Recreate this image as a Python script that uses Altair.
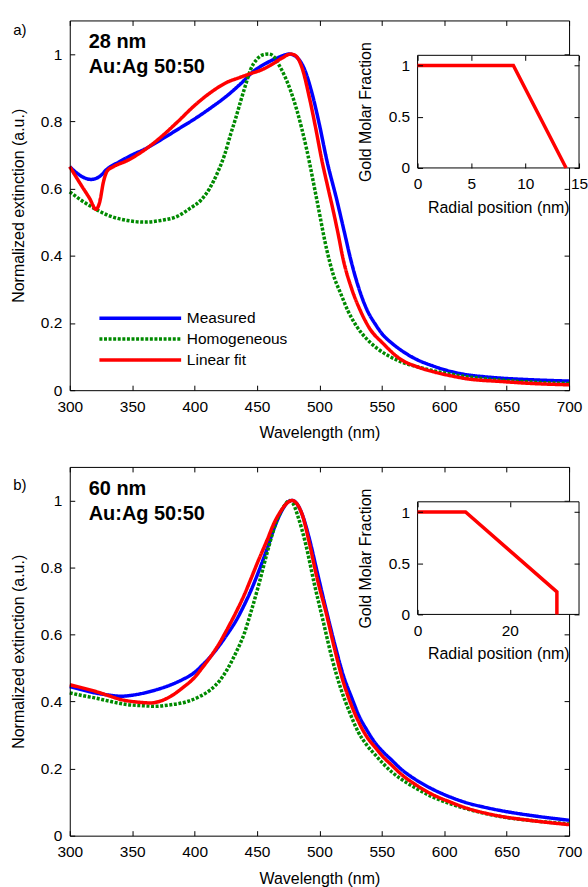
import altair as alt
import pandas as pd

# ---------------- Panel a: 28 nm, Au:Ag 50:50 ----------------
a_meas_wl = [300, 305, 310, 317, 324, 330, 340, 350, 360, 373, 387, 400, 413, 426, 437, 447, 457, 466, 476, 482,
             488, 495, 500, 506, 514, 520, 525, 531, 538, 545, 551, 558, 565, 577, 591, 605, 618, 632, 645, 670, 700]
a_meas_ext = [0.665, 0.648, 0.635, 0.627, 0.636, 0.658, 0.680, 0.700, 0.717, 0.745, 0.777, 0.807, 0.840, 0.876, 0.912,
              0.948, 0.972, 0.988, 1.000, 0.990, 0.955, 0.870, 0.790, 0.683, 0.565, 0.470, 0.390, 0.310, 0.240, 0.195,
              0.164, 0.140, 0.120, 0.093, 0.072, 0.056, 0.046, 0.040, 0.036, 0.031, 0.027]

a_homo_wl = [300, 310, 320, 333, 346, 360, 373, 386, 396, 405, 412, 418, 424, 429, 433, 437, 441, 445, 450, 455,
             459.5, 464, 468, 471.5, 477, 482, 490, 498, 506, 511, 517, 523, 530, 538, 546, 555, 565, 578, 591, 605,
             618, 645, 670, 700]
a_homo_ext = [0.590, 0.563, 0.540, 0.517, 0.505, 0.500, 0.505, 0.517, 0.540, 0.565, 0.600, 0.644, 0.700, 0.763, 0.810,
              0.861, 0.910, 0.955, 0.985, 0.998, 1.000, 0.990, 0.965, 0.940, 0.890, 0.832, 0.713, 0.565, 0.416, 0.345,
              0.288, 0.235, 0.189, 0.152, 0.125, 0.103, 0.085, 0.070, 0.058, 0.048, 0.040, 0.030, 0.024, 0.020]

a_fit_wl = [300, 310, 316, 321, 324, 327, 330, 335, 346, 360, 373, 386, 400, 413, 426, 436, 445, 453, 461, 470,
            477, 481, 486, 492, 497, 502, 507, 511, 515, 519, 526, 533, 540, 551, 565, 578, 591, 605, 618, 645,
            670, 700]
a_fit_ext = [0.665, 0.605, 0.570, 0.538, 0.560, 0.620, 0.652, 0.665, 0.683, 0.715, 0.753, 0.797, 0.847, 0.886, 0.916,
             0.930, 0.942, 0.952, 0.967, 0.988, 1.000, 0.995, 0.960, 0.870, 0.780, 0.683, 0.600, 0.535, 0.465, 0.390,
             0.300, 0.235, 0.185, 0.139, 0.092, 0.070, 0.055, 0.043, 0.034, 0.026, 0.020, 0.016]

a_inset_r = [0, 8.9, 13.8]
a_inset_f = [1, 1, 0]

# ---------------- Panel b: 60 nm, Au:Ag 50:50 ----------------
b_meas_wl = [300, 310, 320, 330, 341, 350, 360, 370, 381, 390, 400, 406, 413, 420, 426, 433, 440, 445, 451, 458,
             464, 470, 475, 478, 482, 487, 492, 498, 505, 512, 519, 526, 532, 538, 545, 551, 558, 565, 578, 591,
             605, 618, 632, 645, 670, 700]
b_meas_ext = [0.445, 0.435, 0.426, 0.420, 0.416, 0.419, 0.426, 0.436, 0.450, 0.465, 0.487, 0.508, 0.535, 0.568, 0.600,
              0.640, 0.690, 0.730, 0.785, 0.855, 0.920, 0.970, 0.996, 1.000, 0.990, 0.950, 0.885, 0.790, 0.680, 0.575,
              0.480, 0.410, 0.355, 0.315, 0.275, 0.250, 0.225, 0.200, 0.165, 0.138, 0.115, 0.098, 0.085, 0.075, 0.060,
              0.046]

b_homo_wl = [300, 310, 320, 333, 346, 357, 368, 380, 394, 404, 413, 420, 426, 433, 440, 445, 451.5, 458, 464, 469,
             473, 475.5, 479, 483, 489, 496, 503, 510, 517, 524, 531, 538, 545, 551, 558, 565, 578, 591, 605, 618,
             645, 670, 700]
b_homo_ext = [0.426, 0.418, 0.411, 0.400, 0.391, 0.388, 0.386, 0.390, 0.400, 0.415, 0.436, 0.462, 0.495, 0.545, 0.605,
              0.665, 0.750, 0.842, 0.920, 0.965, 0.990, 1.000, 0.990, 0.950, 0.870, 0.750, 0.640, 0.530, 0.440, 0.370,
              0.310, 0.270, 0.240, 0.215, 0.190, 0.170, 0.140, 0.115, 0.095, 0.080, 0.057, 0.045, 0.035]

b_fit_wl = [300, 310, 320, 330, 341, 353, 365, 373, 381, 390, 400, 406, 413, 420, 426, 433, 440, 445, 451, 458,
            464, 469, 474, 478, 482, 486, 492, 498, 505.5, 512, 519, 525, 532, 538, 545, 551, 558, 565, 578, 591,
            605, 618, 632, 645, 670, 700]
b_fit_ext = [0.450, 0.441, 0.431, 0.419, 0.406, 0.399, 0.396, 0.402, 0.416, 0.440, 0.472, 0.500, 0.535, 0.575, 0.615,
             0.665, 0.720, 0.765, 0.820, 0.881, 0.935, 0.968, 0.992, 1.000, 0.990, 0.960, 0.872, 0.770, 0.663, 0.560,
             0.460, 0.395, 0.335, 0.295, 0.262, 0.235, 0.210, 0.185, 0.150, 0.122, 0.100, 0.082, 0.068, 0.058, 0.045,
             0.033]

b_inset_r = [0, 10.4, 30.2, 30.2]
b_inset_f = [1, 1, 0.22, 0]

# ---------------- shared settings ----------------
SERIES = ["Measured", "Homogeneous", "Linear fit"]
COLORS = ["#0000ff", "#008a00", "#ff0000"]
DASHES = [[1, 0], [3, 1.6], [1, 0]]
X_TICKS = [300, 350, 400, 450, 500, 550, 600, 650, 700]
Y_TICKS = [0, 0.2, 0.4, 0.6, 0.8, 1]
INSET_Y_TICKS = [0, 0.5, 1]

FONT = "Liberation Sans"
W = 501
IN_L, IN_R, IN_T, IN_B = 349, 511, 35, 148
FMT = "~r"


def spectra_df(meas_wl, meas_ext, homo_wl, homo_ext, fit_wl, fit_ext):
    parts = []
    for name, wl, ext in [("Measured", meas_wl, meas_ext), ("Homogeneous", homo_wl, homo_ext),
                          ("Linear fit", fit_wl, fit_ext)]:
        parts.append(pd.DataFrame({"wl": wl, "ext": ext, "series": name}))
    return pd.concat(parts, ignore_index=True)


def tick_axis(orient, offset, values, z):
    return alt.Axis(orient=orient, offset=offset, values=values, ticks=True, tickSize=5, labels=False,
                    domain=False, grid=False, title=None, zindex=z)


def label_axis(orient, values, title, title_pad, z, offset=0, domain=True):
    return alt.Axis(orient=orient, offset=offset, values=values, format=FMT, ticks=False, tickSize=0,
                    labelPadding=9 if orient == "bottom" else 8, labelFlush=False, labelOverlap=False,
                    domain=domain, grid=False, title=title,
                    titlePadding=title_pad, zindex=z, labelFont=FONT, labelFontSize=15.5, titleFont=FONT,
                    titleFontSize=16, titleFontWeight="normal", labelColor="black", titleColor="black")


def panel(df, inset_r, inset_f, inset_xmax, inset_xticks, tag, tag_y, note_lines, H):
    xs = alt.Scale(domain=[300, 700], nice=False, zero=False, padding=0)
    ys = alt.Scale(domain=[0, 1.1], nice=False, zero=False, padding=0)
    corners = pd.DataFrame({"wl": [300, 700], "ext": [0, 1.1]})

    leg = alt.Legend(orient="none", legendX=63, legendY=291, title=None,
                     symbolType="M-8.2,0H8.2", symbolSize=100, symbolStrokeWidth=3.5,
                     labelFontSize=15.5, labelFont=FONT, labelColor="black", labelOffset=39,
                     rowPadding=4, padding=0)

    lines = alt.Chart(df).mark_line(strokeWidth=3.5, interpolate="monotone").encode(
        x=alt.X("wl:Q", scale=xs, axis=label_axis("bottom", X_TICKS, "Wavelength (nm)", 10, 1)),
        y=alt.Y("ext:Q", scale=ys, axis=label_axis("left", Y_TICKS, "Normalized extinction (a.u.)", 14, 1)),
        color=alt.Color("series:N", scale=alt.Scale(domain=SERIES, range=COLORS), legend=leg),
        strokeDash=alt.StrokeDash("series:N", scale=alt.Scale(domain=SERIES, range=DASHES), legend=leg),
    )

    frame = alt.Chart(corners).mark_point(opacity=0).encode(
        x=alt.X("wl:Q", scale=xs, axis=alt.Axis(orient="top", values=X_TICKS, ticks=False, labels=False,
                                                 domain=True, grid=False, title=None, zindex=0)),
        y=alt.Y("ext:Q", scale=ys, axis=alt.Axis(orient="right", values=Y_TICKS, ticks=False, labels=False,
                                                  domain=True, grid=False, title=None, zindex=0)),
    )
    ticks_a = alt.Chart(corners).mark_point(opacity=0).encode(
        x=alt.X("wl:Q", scale=xs, axis=tick_axis("bottom", -5, X_TICKS, 0)),
        y=alt.Y("ext:Q", scale=ys, axis=tick_axis("left", -5, Y_TICKS, 0)),
    )
    ticks_b = alt.Chart(corners).mark_point(opacity=0).encode(
        x=alt.X("wl:Q", scale=xs, axis=tick_axis("top", -5, X_TICKS, 0)),
        y=alt.Y("ext:Q", scale=ys, axis=tick_axis("right", -5, Y_TICKS, 0)),
    )

    # ---- inset ----
    ixs = alt.Scale(domain=[0, inset_xmax], range=[IN_L, IN_R], nice=False, zero=False, padding=0)
    iys = alt.Scale(domain=[0, 1.1], range=[IN_B, IN_T], nice=False, zero=False, padding=0)
    inset_df = pd.DataFrame({"r": inset_r, "f": inset_f, "i": list(range(len(inset_r)))})
    box_df = pd.DataFrame({"x0": [0], "x1": [inset_xmax], "y0": [0], "y1": [1.1]})

    box = alt.Chart(box_df).mark_rect(fill="white", stroke="black", strokeWidth=1).encode(
        x=alt.X("x0:Q", scale=ixs, axis=None), x2="x1:Q",
        y=alt.Y("y0:Q", scale=iys, axis=None), y2="y1:Q",
    )
    inset_line = alt.Chart(inset_df).mark_line(color="#ff0000", strokeWidth=3.5).encode(
        x=alt.X("r:Q", scale=ixs, axis=label_axis("bottom", inset_xticks, "Radial position (nm)", 7, 1,
                                                   offset=IN_B - H, domain=False)),
        y=alt.Y("f:Q", scale=iys, axis=label_axis("left", INSET_Y_TICKS, "Gold Molar Fraction", 15, 1,
                                                   offset=-IN_L, domain=False)),
        order=alt.Order("i:Q"),
    )
    inset_ticks_a = alt.Chart(inset_df).mark_point(opacity=0).encode(
        x=alt.X("r:Q", scale=ixs, axis=tick_axis("bottom", (IN_B - 5) - H, inset_xticks, 1)),
        y=alt.Y("f:Q", scale=iys, axis=tick_axis("left", -(IN_L + 5), INSET_Y_TICKS, 1)),
    )
    inset_ticks_b = alt.Chart(inset_df).mark_point(opacity=0).encode(
        x=alt.X("r:Q", scale=ixs, axis=tick_axis("top", -(IN_T + 5), inset_xticks, 1)),
        y=alt.Y("f:Q", scale=iys, axis=tick_axis("right", (IN_R - 5) - W, INSET_Y_TICKS, 1)),
    )

    one = pd.DataFrame({"k": [0]})
    note = alt.Chart(one).mark_text(text=note_lines, font=FONT, fontSize=20, fontWeight="bold", align="left",
                                    baseline="alphabetic", lineHeight=25, color="black").encode(
        x=alt.value(19), y=alt.value(28))
    tag_mark = alt.Chart(one).mark_text(text=tag, font=FONT, fontSize=15, align="center", baseline="middle",
                                        color="black").encode(x=alt.value(-50), y=alt.value(tag_y))

    return alt.layer(frame, ticks_a, ticks_b, lines, box, inset_line, inset_ticks_a, inset_ticks_b,
                     note, tag_mark).resolve_scale(x="independent", y="independent").properties(width=W, height=H)


df_a = spectra_df(a_meas_wl, a_meas_ext, a_homo_wl, a_homo_ext, a_fit_wl, a_fit_ext)
df_b = spectra_df(b_meas_wl, b_meas_ext, b_homo_wl, b_homo_ext, b_fit_wl, b_fit_ext)

pa = panel(df_a, a_inset_r, a_inset_f, 15, [0, 5, 10, 15], "a)", 10, ["28 nm", "Au:Ag 50:50"], 371)
pb = panel(df_b, b_inset_r, b_inset_f, 35, [0, 20], "b)", 18, ["60 nm", "Au:Ag 50:50"], 370)

chart = alt.vconcat(pa, pb, spacing=23).properties(
    padding={"left": 10, "top": 16, "right": 0, "bottom": 0}
).configure(font=FONT).configure_view(stroke=None).configure_axis(
    labelFont=FONT, labelFontSize=15.5, titleFont=FONT, titleFontSize=16, titleFontWeight="normal",
    labelColor="black", titleColor="black", domainColor="black", tickColor="black", grid=False
)

chart.save("out.html", embed_options={"renderer": "svg", "actions": False})
